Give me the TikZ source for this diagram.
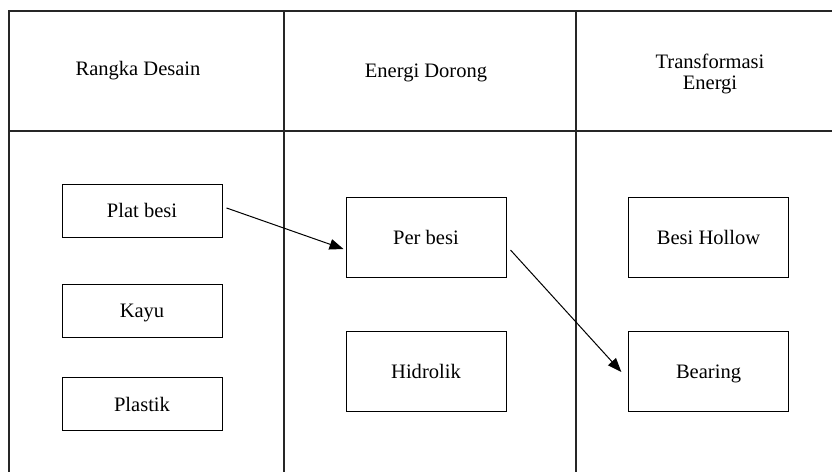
\documentclass[tikz,border=0pt]{standalone}
\usepackage{fontspec}
\setmainfont{Liberation Serif}
\usetikzlibrary{arrows.meta}
\begin{document}
\begin{tikzpicture}[x=0.75pt,y=-0.75pt,node distance=75pt,
  kotak/.style={rectangle,draw,line width=0.75pt,minimum width=120pt,minimum height=60pt,inner sep=0pt,text height=11.2pt,text depth=0pt,font=\fontsize{15.4}{18}\selectfont},
  kecil/.style={kotak,minimum height=39.75pt},
  judul/.style={align=center,inner sep=0pt,font=\fontsize{15.4}{15.4}\selectfont},
  garis/.style={line width=1.1pt,black!85},
  panah/.style={-{Triangle[length=10.5pt,width=8pt]},line width=0.75pt}]
\useasboundingbox (0,0) rectangle (832,472);
% tabel
\draw[garis] (832,11) -- (9,11) -- (9,472);
\draw[garis] (9,131) -- (832,131);
\draw[garis] (284,11) -- (284,472);
\draw[garis] (576,11) -- (576,472);
% judul kolom
\node (rangka) [judul] at (138,71) {Rangka Desain};
\node (dorong) [judul] at (426,73) {Energi Dorong};
\node (transformasi) [judul] at (710,74) {Transformasi\\Energi};
% isi kolom
\node (plat) [kecil] at (142,210.5) {Plat besi};
\node (kayu) [kecil, below of=plat] {Kayu};
\node (plastik) [kecil, below of=kayu, node distance=70pt] {Plastik};
\node (per) [kotak] at (426,237) {Per besi};
\node (hidrolik) [kotak, below of=per, node distance=100.5pt] {Hidrolik};
\node (hollow) [kotak, right of=per, node distance=211.9pt] {Besi Hollow};
\node (bearing) [kotak, below of=hollow, node distance=100.5pt] {Bearing};
% panah
\draw[panah] ([shift={(3pt,1.9pt)}]plat.east) -- ([shift={(-1.5pt,-9pt)}]per.west);
\draw[panah] ([shift={(3pt,-9.75pt)}]per.east) -- ([shift={(-5pt,-0.75pt)}]bearing.west);
\end{tikzpicture}
\end{document}
